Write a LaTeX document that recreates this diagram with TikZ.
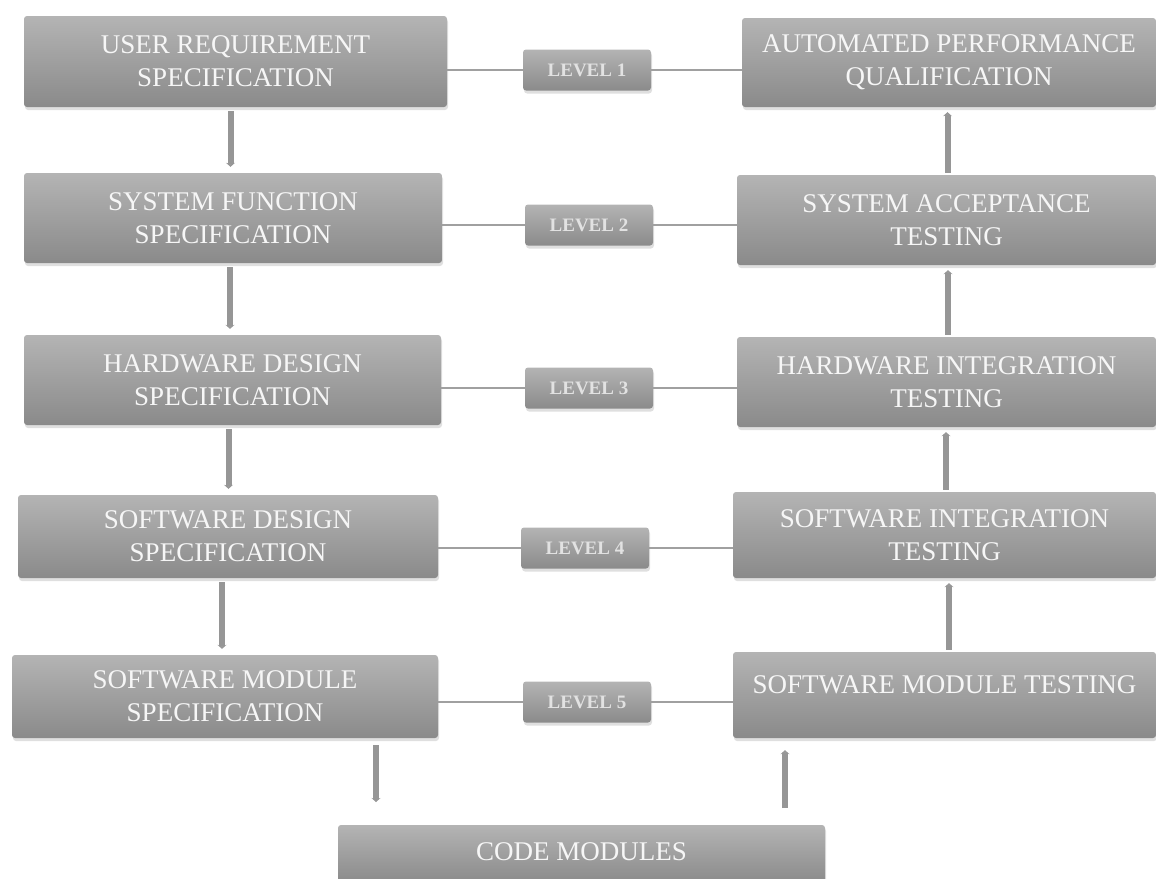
\documentclass[tikz,border=0pt]{standalone}
\usepackage{fontspec}
\setmainfont{Liberation Serif}
\usetikzlibrary{shadows,arrows.meta}
\definecolor{boxtop}{RGB}{180,180,180}
\definecolor{boxbot}{RGB}{138,138,138}
\definecolor{linec}{RGB}{160,160,160}
\definecolor{vlinec}{RGB}{150,150,150}
\definecolor{txtc}{RGB}{246,246,246}
\definecolor{lvltxt}{RGB}{226,226,226}
\begin{document}
\begin{tikzpicture}[x=1pt,y=-1pt,
  box/.style={rectangle, rounded corners=3pt, top color=boxtop, bottom color=boxbot,
    draw=none, text=txtc, align=center, inner sep=0pt,
    font=\fontsize{27}{33}\selectfont,
    drop shadow={shadow xshift=1pt, shadow yshift=-3pt, opacity=0.25, fill=black!50}},
  lvlbox/.style={box, minimum width=128pt, minimum height=41pt, text=lvltxt,
    font=\fontsize{19}{21}\selectfont\bfseries},
  hline/.style={draw=linec, line width=2pt},
  varrow/.style={draw=vlinec, line width=6pt, -{Stealth[length=4pt,width=9pt]}}
]
\useasboundingbox (0,0) rectangle (1156,878);
% left column
\node[box, minimum width=423pt, minimum height=91pt] (urs) at (235.5,61.5) {USER REQUIREMENT\\SPECIFICATION};
\node[box, minimum width=418pt, minimum height=90pt] (sfs) at (233,218) {SYSTEM FUNCTION\\SPECIFICATION};
\node[box, minimum width=417pt, minimum height=90pt] (hds) at (232.5,380) {HARDWARE DESIGN\\SPECIFICATION};
\node[box, minimum width=420pt, minimum height=83pt] (sds) at (228,536.5) {SOFTWARE DESIGN\\SPECIFICATION};
\node[box, minimum width=426pt, minimum height=83pt] (sms) at (225,696.5) {SOFTWARE MODULE\\SPECIFICATION};
% right column
\node[box, minimum width=414pt, minimum height=89pt] (apq) at (949,62.5) {AUTOMATED PERFORMANCE\\QUALIFICATION};
\node[box, minimum width=419pt, minimum height=90pt] (sat) at (946.5,220) {SYSTEM ACCEPTANCE\\TESTING};
\node[box, minimum width=419pt, minimum height=90pt] (hit) at (946.5,382) {HARDWARE INTEGRATION\\TESTING};
\node[box, minimum width=423pt, minimum height=86pt] (sit) at (944.5,535) {SOFTWARE INTEGRATION\\TESTING};
\node[box, minimum width=423pt, minimum height=86pt, text depth=20pt] (smt) at (944.5,695) {SOFTWARE MODULE TESTING};
% levels
\node[lvlbox] (l1) at (587,70) {LEVEL 1};
\node[lvlbox] (l2) at (589,225) {LEVEL 2};
\node[lvlbox] (l3) at (589,388) {LEVEL 3};
\node[lvlbox] (l4) at (585,548) {LEVEL 4};
\node[lvlbox] (l5) at (587,702) {LEVEL 5};
% code modules
\node[box, minimum width=487pt, minimum height=58pt, text depth=4pt] (code) at (581.5,854) {CODE MODULES};
% horizontal connectors
\foreach \l/\a/\b in {l1/urs/apq, l2/sfs/sat, l3/hds/hit, l4/sds/sit, l5/sms/smt}{
  \draw[hline] (\l.west -| \a.east) -- (\l.west);
  \draw[hline] (\l.east) -- (\l.east -| \b.west);
}
% left vertical arrows (down)
\draw[varrow, shorten <=4pt, shorten >=6pt] ([xshift=-5pt]urs.south) -- ([xshift=-5pt]urs.south |- sfs.north);
\draw[varrow, shorten <=4pt, shorten >=6pt] ([xshift=-3pt]sfs.south) -- ([xshift=-3pt]sfs.south |- hds.north);
\draw[varrow, shorten <=4pt, shorten >=6pt] ([xshift=-4pt]hds.south) -- ([xshift=-4pt]hds.south |- sds.north);
\draw[varrow, shorten <=4pt, shorten >=6pt] ([xshift=-6pt]sds.south) -- ([xshift=-6pt]sds.south |- sms.north);
% right vertical arrows (up)
\draw[varrow, shorten <=2pt, shorten >=5pt] ([xshift=1pt]sat.north) -- ([xshift=1pt]sat.north |- apq.south);
\draw[varrow, shorten <=2pt, shorten >=5pt] ([xshift=1.5pt]hit.north) -- ([xshift=1.5pt]hit.north |- sat.south);
\draw[varrow, shorten <=2pt, shorten >=5pt] ([xshift=1.5pt]sit.north) -- ([xshift=1.5pt]sit.north |- hit.south);
\draw[varrow, shorten <=2pt, shorten >=5pt] ([xshift=4.5pt]smt.north) -- ([xshift=4.5pt]smt.north |- sit.south);
% to / from code modules
\coordinate (cmL) at (376,802);
\coordinate (cmR) at (785,808);
\draw[varrow, shorten <=7pt] (cmL |- sms.south) -- (cmL);
\draw[varrow, shorten >=12pt] (cmR) -- (cmR |- smt.south);
\end{tikzpicture}
\end{document}
